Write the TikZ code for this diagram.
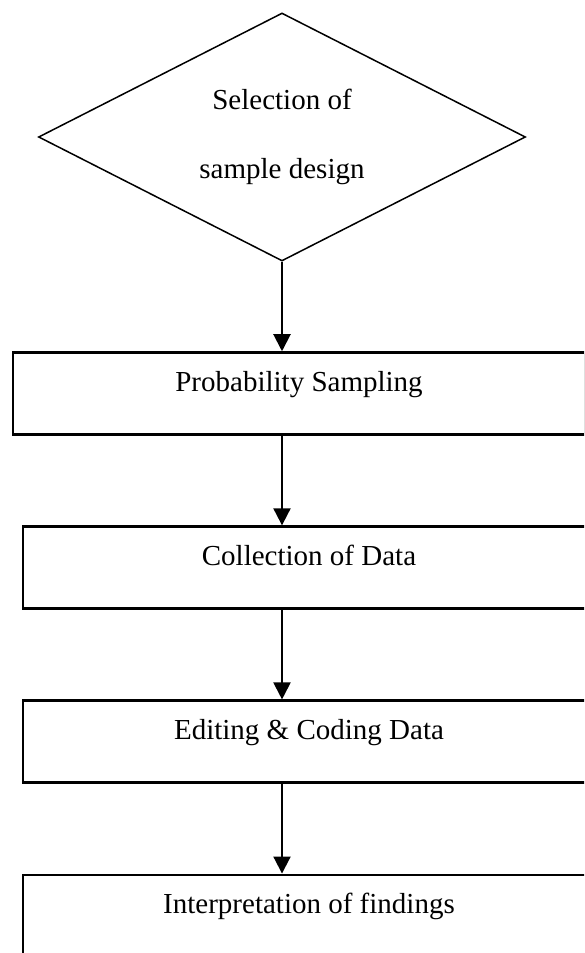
\documentclass[tikz,border=0pt]{standalone}
\usepackage{fontspec}
\setmainfont{Liberation Serif}
\usetikzlibrary{shapes.geometric,positioning,arrows.meta}

\tikzset{
    decision/.style={draw, diamond, aspect=1.97, line width=1.5pt, inner sep=0pt,
        minimum width=487pt, minimum height=248pt, align=center,
        font=\fontsize{29}{69}\selectfont},
    process/.style={draw, rectangle, line width=2.6pt, inner sep=0pt,
        minimum width=572pt, text height=38.5pt, text depth=43.5pt,
        font=\fontsize{29}{34}\selectfont},
    flow/.style={-{Triangle[length=17pt,width=17pt]}, line width=2pt}
}

\begin{document}
\begin{tikzpicture}[x=1pt, y=1pt, node distance=89.5pt]
    \useasboundingbox (0,0) rectangle (584,953);
    \clip (0,0) rectangle (584,953);

    % sampling steps, top to bottom
    \node[decision] (sel) at (282,816) {Selection of\\sample design};
    \node[process, below=of sel, xshift=17pt] (prob) {Probability Sampling};
    \node[process, below=of prob, xshift=10pt] (coll) {Collection of Data};
    \node[process, below=of coll] (edit) {Editing \& Coding Data};
    \node[process, below=of edit] (interp) {Interpretation of findings};

    % arrows stay on the diamond's axis
    \draw[flow] (sel.south) -- (sel.south |- prob.north);
    \draw[flow] (prob.south -| sel.south) -- (sel.south |- coll.north);
    \draw[flow] (coll.south -| sel.south) -- (sel.south |- edit.north);
    \draw[flow] (edit.south -| sel.south) -- (sel.south |- interp.north);
\end{tikzpicture}
\end{document}
